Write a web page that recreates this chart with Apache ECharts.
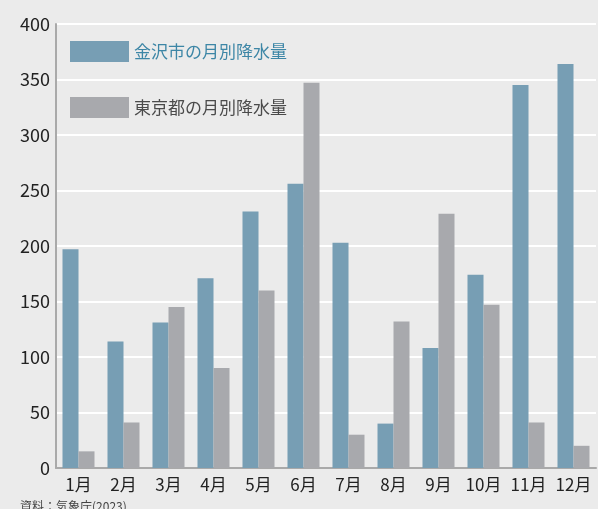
<!DOCTYPE html>
<html>
<head>
<meta charset="utf-8">
<script src="https://cdn.jsdelivr.net/npm/echarts@6/dist/echarts.min.js"></script>
<style>
html,body{margin:0;padding:0;background:#ebebeb;}
#chart{width:598px;height:509px;}
</style>
</head>
<body>
<div id="chart"></div>
<script>
// 月別降水量 (mm)
var months = ['1月','2月','3月','4月','5月','6月','7月','8月','9月','10月','11月','12月'];
var kanazawa = [197, 114, 131, 171, 231, 256, 203, 40, 108, 174, 345, 364];
var tokyo = [15, 41, 145, 90, 160, 347, 30, 132, 229, 147, 41, 20];
var yTicks = [0, 50, 100, 150, 200, 250, 300, 350, 400];

var font = '"Noto Sans CJK JP", "Noto Sans", sans-serif';

var myChart = echarts.init(document.getElementById('chart'));
var option = {
    backgroundColor: '#ebebeb',
    textStyle: { fontFamily: font },
    animation: false,
    grid: { left: 56, right: 2, top: 24, bottom: 41 },
    legend: {
        orient: 'vertical',
        left: 65,
        top: 36,
        itemWidth: 59,
        itemHeight: 21,
        itemGap: 35,
        icon: 'rect',
        textStyle: { fontSize: 17, fontFamily: font },
        data: [
            { name: '金沢市の月別降水量', textStyle: { color: '#3d86a6' } },
            { name: '東京都の月別降水量', textStyle: { color: '#4a4a4a' } }
        ]
    },
    graphic: [{
        type: 'text',
        left: 20,
        top: 500,
        style: { text: '資料：気象庁(2023)', fill: '#444', font: '12px ' + font }
    }],
    xAxis: {
        type: 'category',
        data: months,
        axisLine: { lineStyle: { color: '#a9a9a9', width: 2 } },
        axisTick: { show: false },
        axisLabel: { color: '#222', fontSize: 17, margin: 8, interval: 0, fontFamily: font }
    },
    yAxis: {
        type: 'value',
        min: yTicks[0],
        max: yTicks[yTicks.length - 1],
        interval: 50,
        axisLine: { show: true, lineStyle: { color: '#a9a9a9', width: 2 } },
        axisTick: { show: false },
        axisLabel: { color: '#222', fontSize: 18, margin: 6, fontFamily: font },
        splitLine: { lineStyle: { color: '#ffffff', width: 2 } }
    },
    series: [{
        name: '金沢市の月別降水量',
        type: 'bar',
        data: kanazawa,
        barWidth: 16,
        barGap: '0%',
        itemStyle: { color: '#779eb4' }
    }, {
        name: '東京都の月別降水量',
        type: 'bar',
        data: tokyo,
        barWidth: 16,
        barGap: '0%',
        itemStyle: { color: '#a8a9ad' }
    }]
};
myChart.setOption(option);
</script>
</body>
</html>
